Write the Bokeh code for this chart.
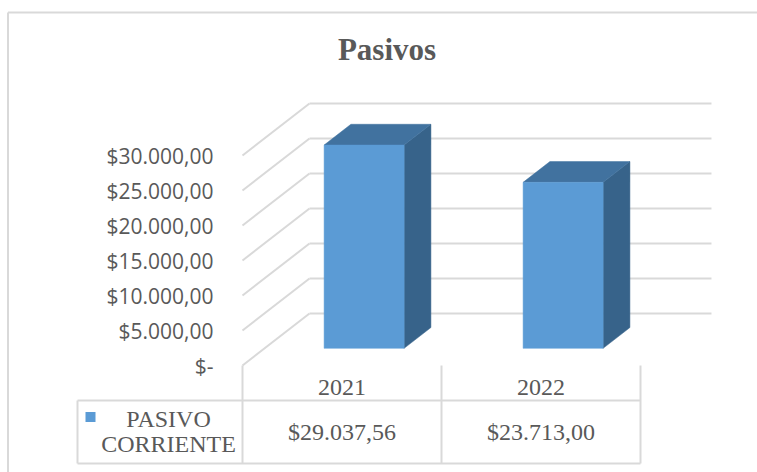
from bokeh.plotting import figure
from bokeh.models import LinearAxis, FixedTicker, Range1d
from bokeh.core.properties import value
from bokeh.embed import file_html
from bokeh.resources import INLINE

# ---------------- data ----------------
title_text = "Pasivos"
categories = ["2021", "2022"]
series_name = "PASIVO CORRIENTE"
series_values = [29037.56, 23713.00]
table_labels = ["$29.037,56", "$23.713,00"]
y_ticks = [0, 5000, 10000, 15000, 20000, 25000, 30000]
y_tick_labels = ["$-", "$5.000,00", "$10.000,00", "$15.000,00",
                 "$20.000,00", "$25.000,00", "$30.000,00"]

# ---------------- layout constants ----------------
W, H = 757, 472
PAGE_OFF = 0
X0, Y0 = 242.0, 365.0        # page px of (category 0, value 0) on front plane
PX_CAT = 199.0               # px per category
PX_VAL = 0.007               # px per value unit


def cx(px):
    return (px - X0) / PX_CAT


def vy(py):
    return (Y0 - py) / PX_VAL


DX = 67.0 / PX_CAT           # depth projection offsets
DY = 52.0 / PX_VAL
Z1, Z2 = 0.33, 0.73          # bar depth
BW = 80.0 / PX_CAT           # bar width (category units)
WALL_END = 2.02


def proj(c, v, z):
    return c + DX * z, v + DY * z


GRID = "#d9d9d9"
TXT = "#595959"
FRONT, TOP, SIDE = "#5B9BD5", "#41729F", "#37638A"

p = figure(width=W, height=H, output_backend="svg", toolbar_location=None,
           x_range=Range1d(cx(PAGE_OFF), cx(PAGE_OFF + W)),
           y_range=Range1d(vy(PAGE_OFF + H), vy(PAGE_OFF)),
           x_axis_type=None, y_axis_type=None, min_border=0,
           outline_line_color=None, background_fill_color="white",
           border_fill_color="white")
p.grid.visible = False

# chart border (left and top)
p.line(x=[cx(7.5), cx(7.5)], y=[vy(12), vy(PAGE_OFF + H)], line_color=GRID, line_width=2)
p.line(x=[cx(7.5), cx(PAGE_OFF + W)], y=[vy(12), vy(12)], line_color=GRID, line_width=2)

# back wall gridlines and side wall diagonals
gx, gy, dx_, dy_ = [], [], [], []
for t in y_ticks:
    a = proj(0, t, 1)
    b = proj(WALL_END, t, 1)
    gx.append([a[0], b[0]])
    gy.append([a[1], b[1]])
    f = proj(0, t, 0)
    dx_.append([f[0], a[0]])
    dy_.append([f[1], a[1]])
p.multi_line(xs=gx, ys=gy, line_color=GRID, line_width=2)
p.multi_line(xs=dx_, ys=dy_, line_color=GRID, line_width=2)

# bars
fx, fy, tx, ty, sx, sy = [], [], [], [], [], []
for i, val in enumerate(series_values):
    xl = i + 0.5 - BW / 2
    xr = i + 0.5 + BW / 2
    pts = [proj(xl, 0, Z1), proj(xr, 0, Z1), proj(xr, val, Z1), proj(xl, val, Z1)]
    fx.append([q[0] for q in pts]); fy.append([q[1] for q in pts])
    pts = [proj(xl, val, Z1), proj(xr, val, Z1), proj(xr, val, Z2), proj(xl, val, Z2)]
    tx.append([q[0] for q in pts]); ty.append([q[1] for q in pts])
    pts = [proj(xr, 0, Z1), proj(xr, val, Z1), proj(xr, val, Z2), proj(xr, 0, Z2)]
    sx.append([q[0] for q in pts]); sy.append([q[1] for q in pts])
p.patches(xs=sx, ys=sy, fill_color=SIDE, line_color=SIDE, line_width=0.5)
p.patches(xs=tx, ys=ty, fill_color=TOP, line_color=TOP, line_width=0.5)
p.patches(xs=fx, ys=fy, fill_color=FRONT, line_color=FRONT, line_width=0.5)

# value axis on the front plane
yaxis = LinearAxis(fixed_location=0.0, ticker=FixedTicker(ticks=y_ticks),
                   major_label_overrides={t: l for t, l in zip(y_ticks, y_tick_labels)},
                   axis_line_color=None, major_tick_line_color=None,
                   minor_tick_line_color=None, major_tick_out=0, major_tick_in=0,
                   major_label_standoff=29, major_label_text_font="Open Sans",
                   major_label_text_font_size="21px", major_label_text_color=TXT)
p.add_layout(yaxis, "left")

# data table lines
n = len(categories)
TL = cx(77)
y_top, y_mid, y_bot = 0, vy(400), vy(463)
tab_xs = [[c, c] for c in range(n + 1)] + [[TL, TL], [TL, n], [TL, n]]
tab_ys = [[y_top, y_bot] for _ in range(n + 1)] + [[y_mid, y_bot], [y_mid, y_mid], [y_bot, y_bot]]
p.multi_line(xs=tab_xs, ys=tab_ys, line_color=GRID, line_width=2)

serif = value("Liberation Serif")
TS = "24px"
# category labels
p.text(x=[i + 0.5 for i in range(n)], y=[vy(387)] * n, text=categories,
       text_font=serif, text_font_size=TS, text_color=TXT,
       text_align="center", text_baseline="middle")
# value labels
p.text(x=[i + 0.5 for i in range(n)], y=[vy(431)] * n, text=table_labels,
       text_font=serif, text_font_size=TS, text_color=TXT,
       text_align="center", text_baseline="middle")
# legend key + series name
name_lines = series_name.split(" ")
p.text(x=[cx(168)] * len(name_lines), y=[vy(418), vy(443)], text=name_lines,
       text_font=serif, text_font_size=TS, text_color=TXT,
       text_align="center", text_baseline="middle")
p.scatter(x=[cx(90)], y=[vy(416.5)], marker="square", size=10,
          fill_color=FRONT, line_color=None)

# title
p.text(x=[cx(386.5)], y=[vy(49)], text=[title_text], text_font=serif,
       text_font_size="31px", text_font_style="bold", text_color=TXT,
       text_align="center", text_baseline="middle")

open("out.html", "w").write(file_html(p, INLINE))
